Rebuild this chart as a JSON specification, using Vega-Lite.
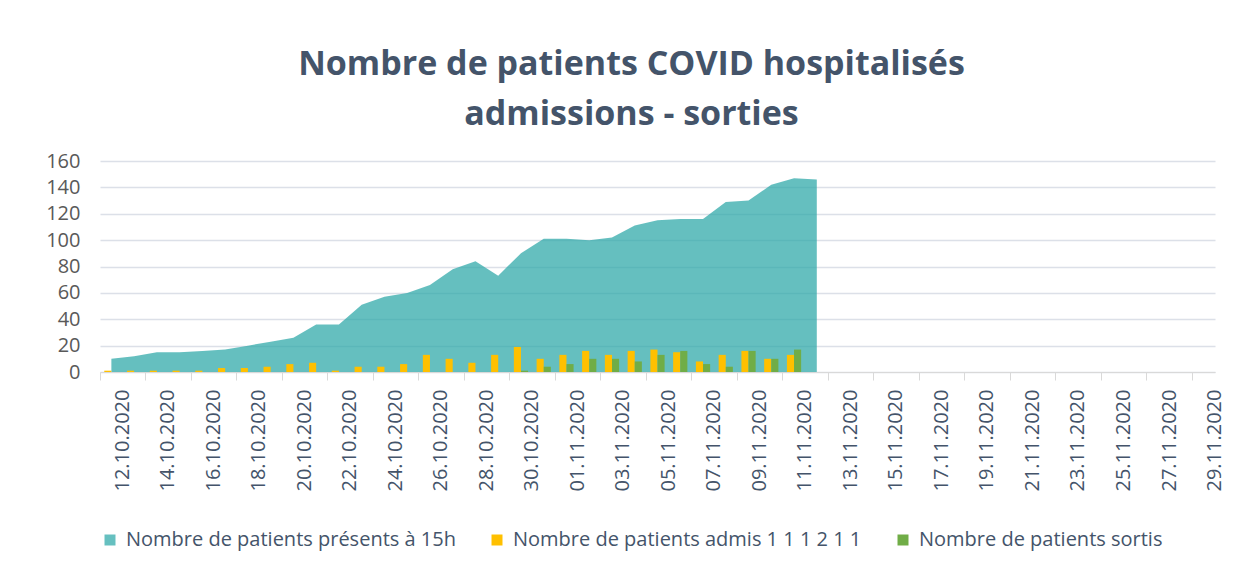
{
  "$schema": "https://vega.github.io/schema/vega-lite/v6.json",
  "width": 1115,
  "height": 211,
  "autosize": {"type": "none"},
  "padding": {"left": 100, "top": 161, "right": 27, "bottom": 198},
  "background": "white",
  "config": {
    "view": {"stroke": null},
    "font": "Open Sans"
  },
  "title": {
    "text": ["Nombre de patients COVID hospitalisés", "admissions  - sorties"],
    "fontSize": 34,
    "fontWeight": "bold",
    "color": "#44546A",
    "font": "Open Sans",
    "lineHeight": 50,
    "anchor": "middle",
    "dx": -26,
    "offset": 19
  },
  "datasets": {
    "presents": [
      {"date": "12.10.2020", "n": 10},
      {"date": "13.10.2020", "n": 12},
      {"date": "14.10.2020", "n": 15},
      {"date": "15.10.2020", "n": 15},
      {"date": "16.10.2020", "n": 16},
      {"date": "17.10.2020", "n": 17},
      {"date": "18.10.2020", "n": 20},
      {"date": "19.10.2020", "n": 23},
      {"date": "20.10.2020", "n": 26},
      {"date": "21.10.2020", "n": 36},
      {"date": "22.10.2020", "n": 36},
      {"date": "23.10.2020", "n": 51},
      {"date": "24.10.2020", "n": 57},
      {"date": "25.10.2020", "n": 60},
      {"date": "26.10.2020", "n": 66},
      {"date": "27.10.2020", "n": 78},
      {"date": "28.10.2020", "n": 84},
      {"date": "29.10.2020", "n": 73},
      {"date": "30.10.2020", "n": 90},
      {"date": "31.10.2020", "n": 101},
      {"date": "01.11.2020", "n": 101},
      {"date": "02.11.2020", "n": 100},
      {"date": "03.11.2020", "n": 102},
      {"date": "04.11.2020", "n": 111},
      {"date": "05.11.2020", "n": 115},
      {"date": "06.11.2020", "n": 116},
      {"date": "07.11.2020", "n": 116},
      {"date": "08.11.2020", "n": 129},
      {"date": "09.11.2020", "n": 130},
      {"date": "10.11.2020", "n": 142},
      {"date": "11.11.2020", "n": 147},
      {"date": "12.11.2020", "n": 146}
    ],
    "mouvements": [
      {"date": "12.10.2020", "serie": "admis", "n": 1},
      {"date": "13.10.2020", "serie": "admis", "n": 1},
      {"date": "14.10.2020", "serie": "admis", "n": 1},
      {"date": "15.10.2020", "serie": "admis", "n": 1},
      {"date": "16.10.2020", "serie": "admis", "n": 1},
      {"date": "17.10.2020", "serie": "admis", "n": 3},
      {"date": "18.10.2020", "serie": "admis", "n": 3},
      {"date": "19.10.2020", "serie": "admis", "n": 4},
      {"date": "20.10.2020", "serie": "admis", "n": 6},
      {"date": "21.10.2020", "serie": "admis", "n": 7},
      {"date": "22.10.2020", "serie": "admis", "n": 1},
      {"date": "23.10.2020", "serie": "admis", "n": 4},
      {"date": "24.10.2020", "serie": "admis", "n": 4},
      {"date": "25.10.2020", "serie": "admis", "n": 6},
      {"date": "26.10.2020", "serie": "admis", "n": 13},
      {"date": "27.10.2020", "serie": "admis", "n": 10},
      {"date": "28.10.2020", "serie": "admis", "n": 7},
      {"date": "29.10.2020", "serie": "admis", "n": 13},
      {"date": "30.10.2020", "serie": "admis", "n": 19},
      {"date": "31.10.2020", "serie": "admis", "n": 10},
      {"date": "01.11.2020", "serie": "admis", "n": 13},
      {"date": "02.11.2020", "serie": "admis", "n": 16},
      {"date": "03.11.2020", "serie": "admis", "n": 13},
      {"date": "04.11.2020", "serie": "admis", "n": 16},
      {"date": "05.11.2020", "serie": "admis", "n": 17},
      {"date": "06.11.2020", "serie": "admis", "n": 15},
      {"date": "07.11.2020", "serie": "admis", "n": 8},
      {"date": "08.11.2020", "serie": "admis", "n": 13},
      {"date": "09.11.2020", "serie": "admis", "n": 16},
      {"date": "10.11.2020", "serie": "admis", "n": 10},
      {"date": "11.11.2020", "serie": "admis", "n": 13},
      {"date": "30.10.2020", "serie": "sortis", "n": 1},
      {"date": "31.10.2020", "serie": "sortis", "n": 4},
      {"date": "01.11.2020", "serie": "sortis", "n": 6},
      {"date": "02.11.2020", "serie": "sortis", "n": 10},
      {"date": "03.11.2020", "serie": "sortis", "n": 10},
      {"date": "04.11.2020", "serie": "sortis", "n": 8},
      {"date": "05.11.2020", "serie": "sortis", "n": 13},
      {"date": "06.11.2020", "serie": "sortis", "n": 16},
      {"date": "07.11.2020", "serie": "sortis", "n": 6},
      {"date": "08.11.2020", "serie": "sortis", "n": 4},
      {"date": "09.11.2020", "serie": "sortis", "n": 16},
      {"date": "10.11.2020", "serie": "sortis", "n": 10},
      {"date": "11.11.2020", "serie": "sortis", "n": 17}
    ]
  },
  "encoding": {
    "x": {
      "field": "date", "type": "nominal",
      "scale": {"type": "band", "paddingInner": 0, "paddingOuter": 0,
        "domain": ["12.10.2020","13.10.2020","14.10.2020","15.10.2020","16.10.2020","17.10.2020","18.10.2020","19.10.2020","20.10.2020","21.10.2020","22.10.2020","23.10.2020","24.10.2020","25.10.2020","26.10.2020","27.10.2020","28.10.2020","29.10.2020","30.10.2020","31.10.2020","01.11.2020","02.11.2020","03.11.2020","04.11.2020","05.11.2020","06.11.2020","07.11.2020","08.11.2020","09.11.2020","10.11.2020","11.11.2020","12.11.2020","13.11.2020","14.11.2020","15.11.2020","16.11.2020","17.11.2020","18.11.2020","19.11.2020","20.11.2020","21.11.2020","22.11.2020","23.11.2020","24.11.2020","25.11.2020","26.11.2020","27.11.2020","28.11.2020","29.11.2020"]},
      "axis": {
        "title": null,
        "values": ["12.10.2020","14.10.2020","16.10.2020","18.10.2020","20.10.2020","22.10.2020","24.10.2020","26.10.2020","28.10.2020","30.10.2020","01.11.2020","03.11.2020","05.11.2020","07.11.2020","09.11.2020","11.11.2020","13.11.2020","15.11.2020","17.11.2020","19.11.2020","21.11.2020","23.11.2020","25.11.2020","27.11.2020","29.11.2020"],
        "labelAngle": -90,
        "bandPosition": 0,
        "labelOffset": 11.4,
        "labelFontSize": 20,
        "labelColor": "#44546A",
        "labelPadding": 9,
        "labelOverlap": false,
        "tickSize": 8,
        "tickColor": "#D9D9D9",
        "domainColor": "#D9D9D9",
        "grid": false
      }
    },
    "y": {
      "field": "n", "type": "quantitative",
      "scale": {"domain": [0, 160], "nice": false},
      "axis": {
        "title": null,
        "values": [0, 20, 40, 60, 80, 100, 120, 140, 160],
        "tickCount": 20,
        "labelFontSize": 20,
        "labelColor": "#595959",
        "labelPadding": 20,
        "labelOverlap": false,
        "domain": false,
        "ticks": false,
        "grid": true,
        "gridColor": "#DCE0E8",
        "gridWidth": 1.3
      }
    }
  },
  "layer": [
    {
      "data": {"name": "presents"},
      "mark": {"type": "area", "color": "#2AA6A6", "opacity": 0.72, "interpolate": "linear"}
    },
    {
      "data": {"name": "mouvements"},
      "mark": {"type": "bar"},
      "encoding": {
        "xOffset": {
          "field": "serie", "type": "nominal",
          "scale": {"domain": ["admis", "sortis"], "paddingInner": 0, "paddingOuter": 0.6}
        },
        "color": {
          "field": "serie", "type": "nominal",
          "scale": {"domain": ["present", "admis", "sortis"], "range": ["#66C0C0", "#FFC000", "#70AD47"]},
          "legend": {
            "title": null,
            "orient": "none",
            "legendX": 0,
            "legendY": 369,
            "direction": "horizontal",
            "symbolType": "square",
            "symbolSize": 121,
            "symbolOpacity": 1,
            "symbolStrokeWidth": 0,
            "labelFontSize": 20,
            "labelColor": "#44546A",
            "labelOffset": 6,
            "columnPadding": 31,
            "labelLimit": 500,
            "labelExpr": "datum.value == 'present' ? 'Nombre de patients présents à 15h' : datum.value == 'admis' ? 'Nombre de patients admis 1 1 1 2 1 1' : 'Nombre de patients sortis'"
          }
        }
      }
    }
  ]
}
